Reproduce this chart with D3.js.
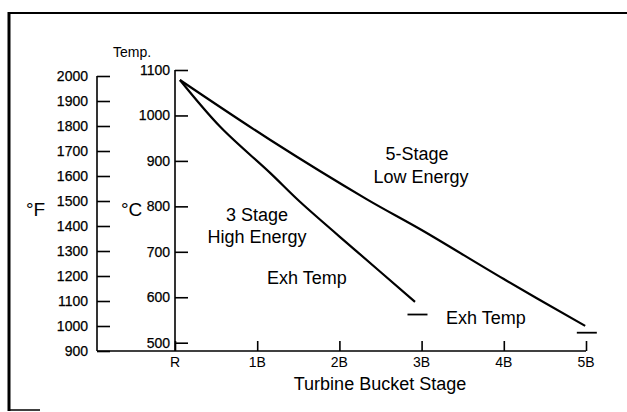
<!DOCTYPE html>
<html>
<head>
<meta charset="utf-8">
<script src="https://cdn.jsdelivr.net/npm/d3@7"></script>
<style>
  body { margin: 0; background: #fff; }
  svg { display: block; font-family: "Liberation Sans", Arial, Helvetica, sans-serif; }
</style>
</head>
<body>
<div id="chart"></div>
<script>
// stage positions (R = 0, 1B = 1 ...) and temperatures in deg C
const stageLabels = ["R", "1B", "2B", "3B", "4B", "5B"];
const tempCTicks = [500, 600, 700, 800, 900, 1000, 1100];
const tempFTicks = [900, 1000, 1100, 1200, 1300, 1400, 1500, 1600, 1700, 1800, 1900, 2000];

const threeStageX = [0.06, 0.55, 1.16, 1.52, 2.21, 2.92];
const threeStageT = [1078, 975, 873, 810, 701, 590];

const fiveStageX = [0.06, 1.16, 2.33, 3.0, 4.0, 4.99];
const fiveStageT = [1078, 946, 816, 748, 640, 537];

// exhaust temperature markers
const exhX = [2.95, 5.01];
const exhT = [562, 522];

const W = 627, H = 412;

var svg = d3.select("#chart")
    .append("svg")
        .attr("width", W)
        .attr("height", H);

svg.append("rect").attr("width", W).attr("height", H).attr("fill", "#fff");

// frame (scanned page border)
svg.append("line").attr("x1", 9).attr("x2", 627).attr("y1", 13).attr("y2", 13)
    .attr("stroke", "#000").attr("stroke-width", 2);
svg.append("line").attr("x1", 9).attr("x2", 9).attr("y1", 12).attr("y2", 411)
    .attr("stroke", "#000").attr("stroke-width", 3);
svg.append("line").attr("x1", 9).attr("x2", 40).attr("y1", 410).attr("y2", 410)
    .attr("stroke", "#000").attr("stroke-width", 1.5);

const x = d3.scaleLinear().domain([0, 5]).range([175, 586]);
const yC = d3.scaleLinear().domain([500, 1100]).range([342.7, 70]);
const yF = d3.scaleLinear().domain([900, 2000]).range([351, 76]);
const baseY = 351;

// deg F axis
var fAxis = svg.append("g")
    .attr("transform", "translate(97,0)")
    .call(d3.axisRight(yF).tickValues(tempFTicks).tickSize(13).tickFormat(""));
fAxis.select(".domain").attr("d", `M0,${yF(2000)}V${baseY}`);
fAxis.selectAll("line, path").attr("stroke", "#000").attr("stroke-width", 1.6);
svg.append("g").selectAll("text")
    .data(tempFTicks)
    .join("text")
        .attr("x", 88)
        .attr("y", d => yF(d) + 5)
        .attr("text-anchor", "end")
        .attr("font-size", 14)
        .attr("stroke", "#000").attr("stroke-width", 0.25)
        .text(d => d);

// deg C axis
var cAxis = svg.append("g")
    .attr("transform", "translate(175,0)")
    .call(d3.axisRight(yC).tickValues(tempCTicks).tickSize(13).tickFormat(""));
cAxis.select(".domain").attr("d", `M0,${yC(1100)}V${baseY}`);
cAxis.selectAll("line, path").attr("stroke", "#000").attr("stroke-width", 1.6);
svg.append("g").selectAll("text")
    .data(tempCTicks)
    .join("text")
        .attr("x", 170)
        .attr("y", d => yC(d) + 5)
        .attr("text-anchor", "end")
        .attr("font-size", 14)
        .attr("stroke", "#000").attr("stroke-width", 0.25)
        .text(d => d);

// stage axis
var xAxis = svg.append("g")
    .attr("transform", "translate(0," + baseY + ")")
    .call(d3.axisTop(x).ticks(5).tickSize(10).tickFormat(""));
xAxis.select(".domain").attr("d", `M97,0H${x(5)}`);
xAxis.selectAll("line, path").attr("stroke", "#000").attr("stroke-width", 1.6);
svg.append("g").selectAll("text")
    .data(stageLabels)
    .join("text")
        .attr("x", (d, i) => x(i))
        .attr("y", 367)
        .attr("text-anchor", "middle")
        .attr("font-size", 14)
        .text(d => d);

// curves
var line = d3.line()
    .x(d => x(d[0]))
    .y(d => yC(d[1]))
    .curve(d3.curveCatmullRom.alpha(0.5));

svg.append("path")
    .attr("d", line(d3.zip(threeStageX, threeStageT)))
    .attr("fill", "none").attr("stroke", "#000").attr("stroke-width", 2.2);
svg.append("path")
    .attr("d", line(d3.zip(fiveStageX, fiveStageT)))
    .attr("fill", "none").attr("stroke", "#000").attr("stroke-width", 2.2);

svg.append("g").selectAll("line")
    .data(d3.zip(exhX, exhT))
    .join("line")
        .attr("x1", d => x(d[0]) - 10)
        .attr("x2", d => x(d[0]) + 10)
        .attr("y1", d => yC(d[1]))
        .attr("y2", d => yC(d[1]))
        .attr("stroke", "#000").attr("stroke-width", 1.8);

// labels
function label(t, px, py, size, anchor) {
    svg.append("text")
        .attr("x", px).attr("y", py)
        .attr("font-size", size)
        .attr("text-anchor", anchor || "start")
        .text(t);
}
label("Temp.", 113, 57, 14);
label("°F", 26, 216, 19);
label("°C", 121, 216, 19);
label("3 Stage", 257, 221, 18, "middle");
label("High Energy", 257, 243, 18, "middle");
label("Exh Temp", 267, 284, 18);
label("5-Stage", 417, 160, 18, "middle");
label("Low Energy", 421, 183, 18, "middle");
label("Exh Temp", 446, 324, 18);
label("Turbine Bucket Stage", 380, 390, 18, "middle");
</script>
</body>
</html>
